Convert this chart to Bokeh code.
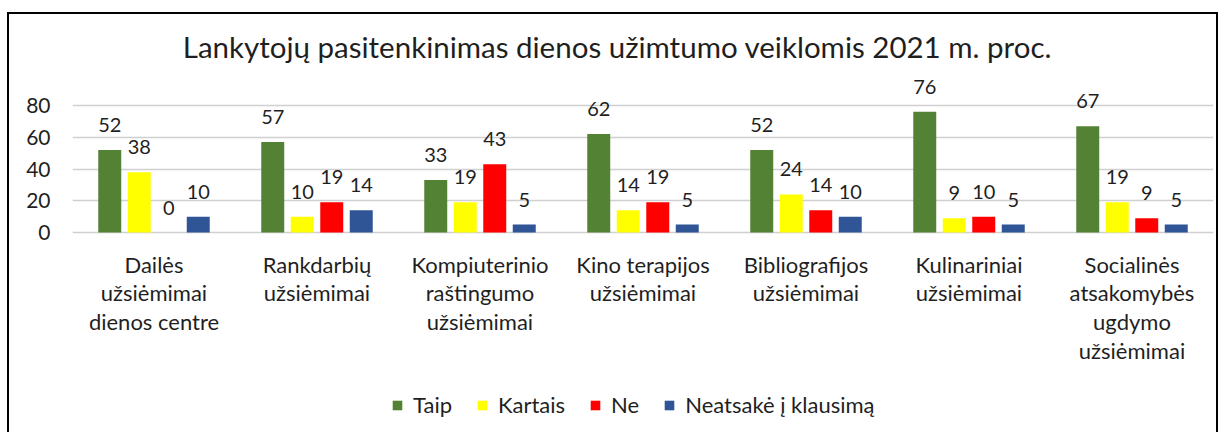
from bokeh.plotting import figure
from bokeh.models import (ColumnDataSource, Range1d, FixedTicker, LabelSet, Legend, LegendItem)
from bokeh.core.properties import value
from bokeh.embed import file_html
from bokeh.resources import INLINE

categories = [
    "Dailės\nužsiėmimai\ndienos centre",
    "Rankdarbių\nužsiėmimai",
    "Kompiuterinio\nraštingumo\nužsiėmimai",
    "Kino terapijos\nužsiėmimai",
    "Bibliografijos\nužsiėmimai",
    "Kulinariniai\nužsiėmimai",
    "Socialinės\natsakomybės\nugdymo\nužsiėmimai",
]
series_names = ["Taip", "Kartais", "Ne", "Neatsakė į klausimą"]
taip = [52, 57, 33, 62, 52, 76, 67]
kartais = [38, 10, 19, 14, 24, 9, 19]
ne = [0, 19, 43, 19, 14, 10, 9]
neatsake = [10, 14, 5, 5, 10, 5, 5]
y_ticks = [0, 20, 40, 60, 80]
title_text = "Lankytojų pasitenkinimas dienos užimtumo veiklomis 2021 m. proc."

colors = ["#548235", "#FFFF00", "#FF0000", "#2F5597"]
FONT = "Lato"
TXT = "#1f1f1f"

# ---- layout (page pixels) ----
CANVAS_X, CANVAS_Y = 9, 14
W, H = 1211, 420
FRAME_L, FRAME_R = 72, 1213
Y80_PX, Y0_PX = 105, 232
YMAX = 80
ppu = (Y0_PX - Y80_PX) / YMAX
ytop = YMAX + (Y80_PX - CANVAS_Y) / ppu
ybot = -(CANVAS_Y + H - Y0_PX) / ppu
ncat = len(categories)
xpx = lambda px: (px - FRAME_L) / (FRAME_R - FRAME_L) * ncat
ypx = lambda py: (Y0_PX - py) / ppu

p = figure(width=W, height=H, output_backend="svg", toolbar_location=None,
           x_range=Range1d(0, ncat), y_range=Range1d(ybot, ytop),
           min_border_left=FRAME_L - CANVAS_X, min_border_right=CANVAS_X + W - FRAME_R,
           min_border_top=0, min_border_bottom=0)
p.styles = {"border-top": "2px solid black", "border-left": "2px solid black",
            "border-right": "2px solid black", "margin-top": "12px", "margin-left": "7px"}
p.outline_line_color = None
p.xaxis.visible = False

# title
p.text(x=[xpx(617)], y=[ypx(46)], text=[title_text], text_align="center",
       text_baseline="alphabetic", text_font=value(FONT), text_font_size="29.5px", text_color=TXT)

step = 0.181
bw = 0.141
offsets = [-1.5 * step, -0.5 * step, 0.5 * step, 1.5 * step]
items = []
for k, vals in enumerate([taip, kartais, ne, neatsake]):
    xs = [i + 0.5 + offsets[k] for i in range(ncat)]
    src = ColumnDataSource(dict(x=xs, top=vals, lab=[str(v) for v in vals]))
    r = p.vbar(x="x", top="top", width=bw, source=src, fill_color=colors[k], line_color=None)
    items.append(LegendItem(label=series_names[k], renderers=[r]))
    ls = LabelSet(x="x", y="top", text="lab", source=src, text_align="center",
                  text_baseline="alphabetic", y_offset=18, text_font=value(FONT),
                  text_font_size="20px", text_color=TXT)
    p.add_layout(ls)

# category labels
p.text(x=[i + 0.5 for i in range(ncat)], y=[ypx(250)] * ncat, text=categories,
       text_align="center", text_baseline="top", text_font=value(FONT),
       text_font_size="22px", text_color=TXT, text_line_height=1.07)

p.yaxis.ticker = FixedTicker(ticks=y_ticks)
p.yaxis.major_label_text_font = FONT
p.yaxis.major_label_text_font_size = "21px"
p.yaxis.major_label_text_color = TXT
p.yaxis.major_label_standoff = 16
p.yaxis.axis_line_color = None
p.yaxis.major_tick_line_color = None
p.yaxis.minor_tick_line_color = None

p.xgrid.grid_line_color = None
p.ygrid.grid_line_color = "#D0D0D0"
p.ygrid.grid_line_width = 1.5

legend = Legend(items=items, orientation="horizontal", location=(391 - FRAME_L, 16),
                label_text_font=FONT, label_text_font_size="22px", label_text_color=TXT,
                glyph_width=12, glyph_height=12, label_standoff=10, spacing=24,
                border_line_color=None, background_fill_color=None, background_fill_alpha=0,
                margin=0, padding=0)
p.add_layout(legend)

open("out.html", "w").write(file_html(p, INLINE))
